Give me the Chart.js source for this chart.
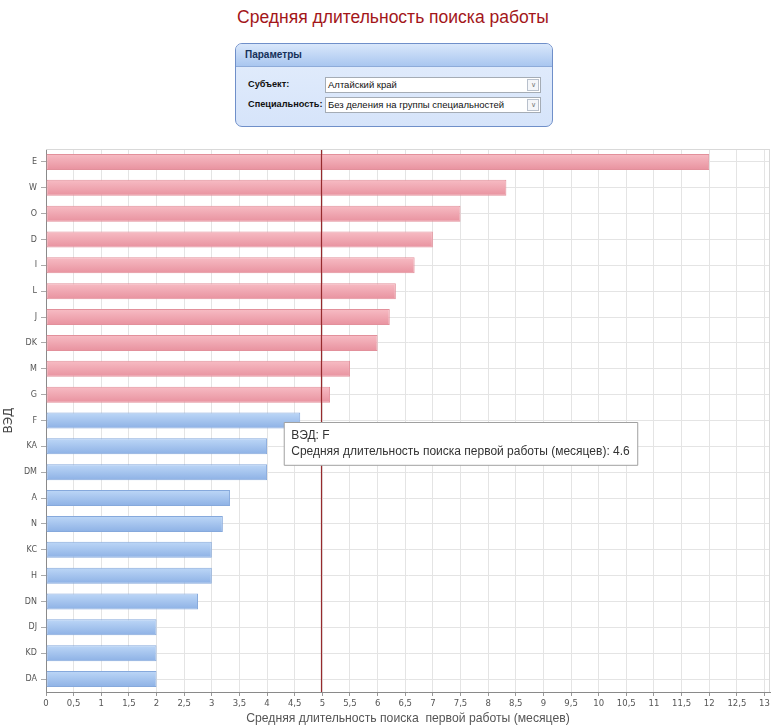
<!DOCTYPE html>
<html>
<head>
<meta charset="utf-8">
<script src="https://cdn.jsdelivr.net/npm/chart.js@4"></script>
<style>
  html,body{margin:0;padding:0;background:#fff;}
  body{width:773px;height:726px;position:relative;overflow:hidden;font-family:"DejaVu Sans",sans-serif;}
  #title{position:absolute;left:0;top:7px;width:786px;text-align:center;font-family:"Liberation Sans",Arial,sans-serif;font-size:17.5px;color:#a3161a;}
  #panel{position:absolute;left:235px;top:43px;width:316px;height:82px;border:1px solid #6f8fc9;border-radius:7px;overflow:hidden;background:linear-gradient(#e3edfc,#d6e4fa);}
  #phead{height:22px;border-bottom:1px solid #8eabd9;background:linear-gradient(#d9e7fb,#a9c6f0);font-weight:bold;font-size:10px;line-height:22px;padding-left:9px;color:#15305a;font-family:"Liberation Sans",Arial,sans-serif;}
  .row{position:absolute;left:12px;font-size:9.2px;font-weight:bold;color:#111;font-family:"Liberation Sans",Arial,sans-serif;}
  .sel{position:absolute;left:77px;background:#fff;border:1px solid #a5acb5;font-weight:normal;font-size:9.5px;line-height:14px;padding-left:2px;box-sizing:border-box;width:216px;height:16px;white-space:nowrap;overflow:hidden;}
  .arr{position:absolute;right:1px;top:1px;width:12px;height:12px;border:1px solid #b8c0cc;box-sizing:border-box;background:#f4f6f9;font-size:7px;line-height:10px;text-align:center;color:#777;}
  #wrap{position:absolute;left:0;top:140px;width:773px;height:586px;}
</style>
</head>
<body>
<div id="title">Средняя длительность поиска работы</div>
<div id="panel">
  <div id="phead">Параметры</div>
  <div class="row" style="top:33px;"><span style="position:absolute;top:2px;white-space:nowrap;">Субъект:</span><div class="sel" style="top:0;">Алтайский край<div class="arr">&#8744;</div></div></div>
  <div class="row" style="top:53px;"><span style="position:absolute;top:2px;white-space:nowrap;">Специальность:</span><div class="sel" style="top:0;">Без деления на группы специальностей<div class="arr">&#8744;</div></div></div>
</div>
<div id="wrap"><canvas id="c" width="773" height="586"></canvas></div>
<script>
const categories = ["E","W","O","D","I","L","J","DK","M","G","F","KA","DM","A","N","KC","H","DN","DJ","KD","DA"];
const values = [12, 8.33, 7.5, 7.0, 6.67, 6.33, 6.22, 6.0, 5.5, 5.14, 4.6, 4.0, 4.0, 3.33, 3.2, 3.0, 3.0, 2.75, 2.0, 2.0, 2.0];
const averageValue = 5;
const xTickMax = 13;
const xAxisMax = 13.1;
const tooltipIndex = 10;
const seriesLabel = "Средняя длительность поиска первой работы (месяцев)";
const yTitle = "ВЭД";
const xTitle = "Средняя длительность поиска  первой работы (месяцев)";

function barFill(ctx, kind) {
  const chart = ctx.chart;
  const aboveAvg = values[ctx.dataIndex] > averageValue;
  const top = aboveAvg ? "#f7bcc4" : "#bdd7f7";
  const bot = aboveAvg ? "#e8929f" : "#8db1e5";
  if (kind === "border") return aboveAvg ? "#e2909b" : "#86a9dc";
  const ys = chart.scales && chart.scales.y;
  if (!ys || !chart.chartArea) return top;
  const yc = ys.getPixelForValue(ctx.dataIndex);
  if (!isFinite(yc)) return top;
  const g = chart.ctx.createLinearGradient(0, yc - 8, 0, yc + 8);
  g.addColorStop(0, top);
  g.addColorStop(1, bot);
  return g;
}

const avgLine = {
  id: "avgLine",
  afterDatasetsDraw(chart) {
    const {ctx, chartArea, scales} = chart;
    const x = Math.round(scales.x.getPixelForValue(averageValue)) - 0.5;
    ctx.save();
    ctx.strokeStyle = "#962a2d";
    ctx.lineWidth = 1.2;
    ctx.beginPath();
    ctx.moveTo(x, chartArea.top);
    ctx.lineTo(x, chartArea.bottom);
    ctx.stroke();
    ctx.strokeStyle = "#d9d9d9";
    ctx.lineWidth = 1;
    ctx.beginPath();
    ctx.moveTo(Math.round(chartArea.right) - 0.5, chartArea.top);
    ctx.lineTo(Math.round(chartArea.right) - 0.5, chartArea.bottom);
    ctx.moveTo(chartArea.left, Math.round(chartArea.top) + 0.5);
    ctx.lineTo(chartArea.right, Math.round(chartArea.top) + 0.5);
    ctx.stroke();
    ctx.restore();
  }
};

Chart.Tooltip.positioners.fixedNear = function(elements) {
  if (!elements.length) return false;
  const el = elements[0].element;
  return {x: el.x - 16, y: el.y + 2, xAlign: "left", yAlign: "top"};
};

const chart = new Chart(document.getElementById("c"), {
  type: "bar",
  data: {
    labels: categories,
    datasets: [{
      label: seriesLabel,
      data: values,
      backgroundColor: (c) => barFill(c, "fill"),
      hoverBackgroundColor: (c) => barFill(c, "fill"),
      borderColor: (c) => barFill(c, "border"),
      hoverBorderColor: (c) => barFill(c, "border"),
      borderWidth: 1,
      borderSkipped: false,
      barPercentage: 0.62,
      categoryPercentage: 1
    }]
  },
  options: {
    indexAxis: "y",
    responsive: false,
    animation: false,
    events: [],
    layout: {padding: {top: 9, right: 3, left: 0, bottom: 0}},
    plugins: {
      legend: {display: false},
      tooltip: {
        enabled: true,
        position: "fixedNear",
        backgroundColor: "#ffffff",
        borderColor: "#a0a0a0",
        borderWidth: 1,
        cornerRadius: 0,
        caretSize: 0,
        caretPadding: 0,
        displayColors: false,
        titleColor: "#333",
        bodyColor: "#333",
        titleFont: {family: "Liberation Sans", size: 12, weight: "normal"},
        bodyFont: {family: "Liberation Sans", size: 12},
        titleMarginBottom: 2,
        padding: {left: 7, right: 8, top: 6, bottom: 6},
        callbacks: {
          title: (items) => yTitle + ": " + items[0].label,
          label: (item) => seriesLabel + ": " + item.raw
        }
      }
    },
    scales: {
      x: {
        min: 0,
        max: xAxisMax,
        afterBuildTicks: (axis) => {
          axis.ticks = [];
          for (let v = 0; v <= xTickMax + 1e-9; v += 0.5) axis.ticks.push({value: Math.round(v * 2) / 2});
        },
        afterFit: (axis) => { axis.height = 34; },
        ticks: {
          stepSize: 0.5,
          autoSkip: false,
          maxRotation: 0,
          padding: 3,
          color: "#555",
          font: {family: "DejaVu Sans", size: 8.5},
          callback: (v) => String(v).replace(".", ",")
        },
        grid: {color: "#e4e4e4", tickLength: 4, tickColor: "#999"},
        border: {color: "#8a8a8a"},
        title: {display: true, text: xTitle, color: "#555", font: {family: "Liberation Sans", size: 12.2}, padding: {top: 0, bottom: 0}}
      },
      y: {
        afterFit: (axis) => { axis.width = 46; },
        ticks: {
          autoSkip: false,
          padding: 4,
          color: "#555",
          font: {family: "DejaVu Sans", size: 8}
        },
        grid: {color: "#e4e4e4", offset: false, tickLength: 5, tickColor: "#aaa"},
        border: {color: "#8a8a8a"},
        title: {display: true, text: yTitle, color: "#444", font: {family: "DejaVu Sans", size: 12}, padding: {top: 2, bottom: 0}}
      }
    }
  },
  plugins: [avgLine]
});

chart.tooltip.setActiveElements([{datasetIndex: 0, index: tooltipIndex}], {x: 0, y: 0});
chart.update();
</script>
</body>
</html>
